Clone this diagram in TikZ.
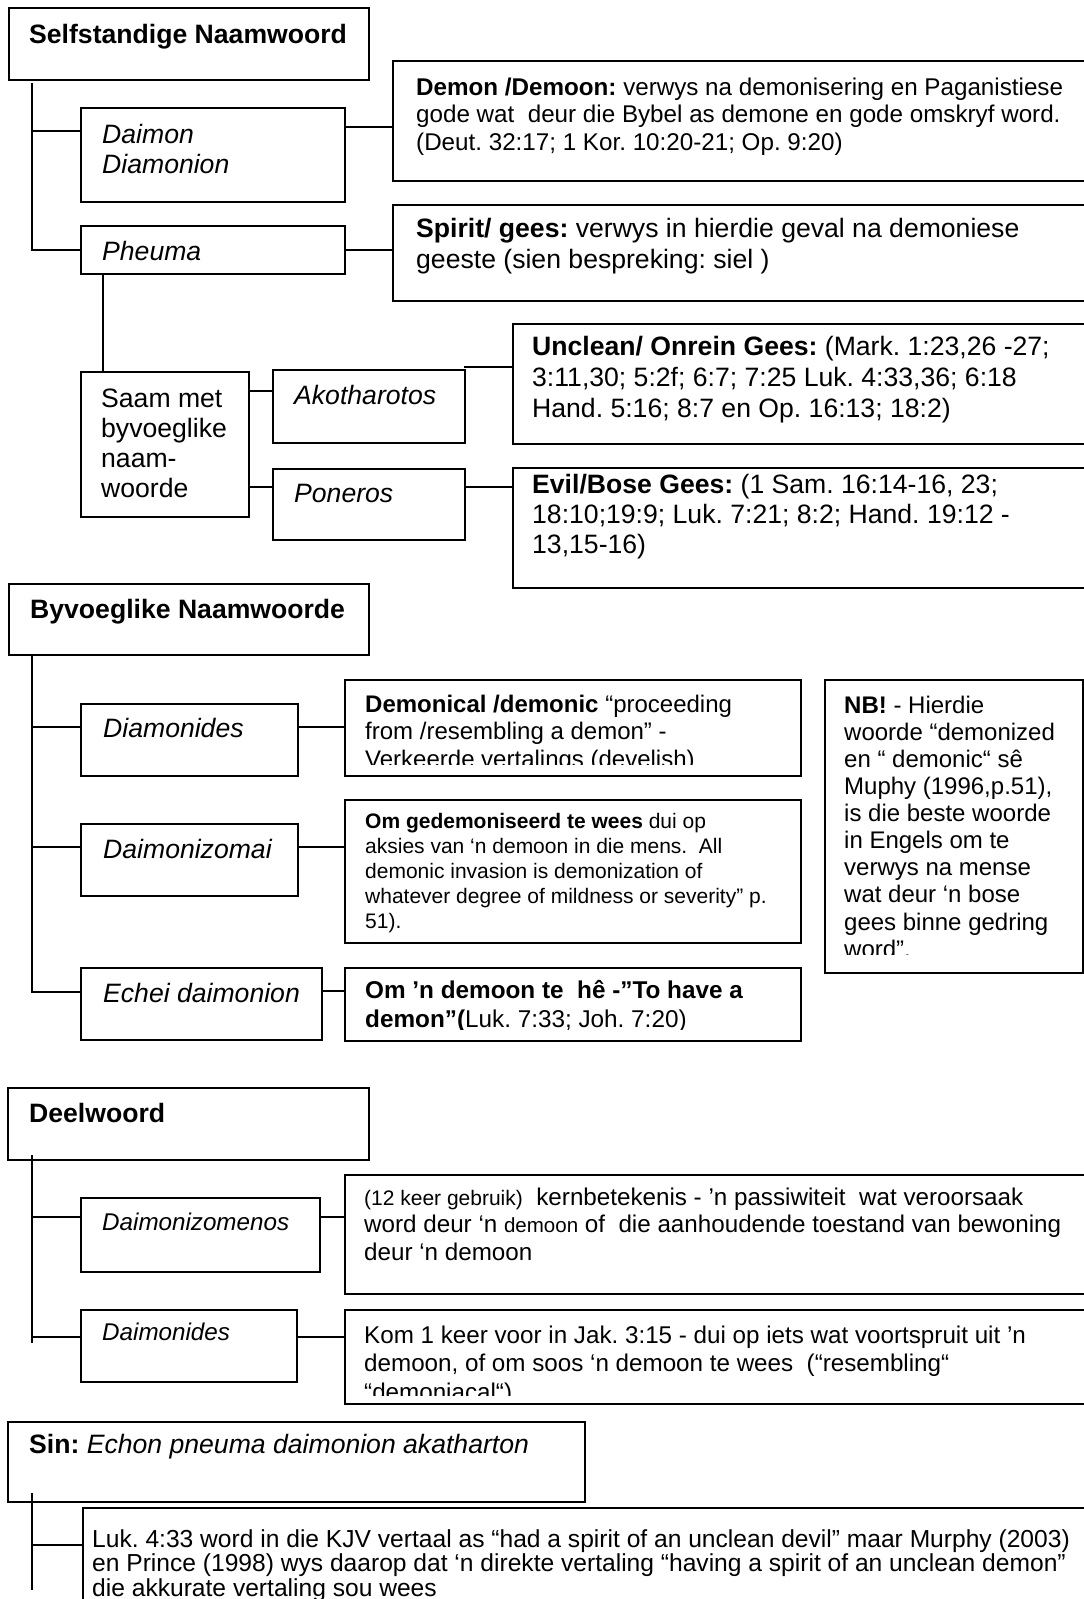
\documentclass[tikz,border=0pt]{standalone}
\usepackage{fontspec}
\setmainfont{Liberation Sans}
\newcommand{\st}{\rule{0pt}{20pt}}
\begin{document}
\frenchspacing
\begin{tikzpicture}[x=1pt,y=-1pt,
  box/.style={draw, line width=1.5pt, inner sep=0pt, anchor=north west},
  txt/.style={anchor=north west, inner sep=0pt, align=left},
  big/.style={font=\fontsize{26.6}{30}\selectfont},
  mid/.style={font=\fontsize{24.2}{27.5}\selectfont},
  link/.style={line width=1.5pt}]
\clip (0,0) rectangle (1084,1599);
\fill[white] (0,0) rectangle (1084,1599);

% ---------- Section 1 ----------
\node[box, minimum width=360pt, minimum height=72pt] (selfst) at (8,7) {};
\node[txt, big] (selfstT) at (29,23) {\st\textbf{Selfstandige Naamwoord}};

\node[box, minimum width=264pt, minimum height=94pt] (daimon) at (80,107) {};
\node[txt, big] (daimonT) at (102,123) {\st\textit{Daimon}\\\textit{Diamonion}};

\node[box, minimum width=264pt, minimum height=48pt] (pheuma) at (80,225) {};
\node[txt, big] (pheumaT) at (102,240) {\st\textit{Pheuma}};

\node[box, minimum width=720pt, minimum height=120pt] (demon) at (392,60) {};
\node[txt, font=\fontsize{24.2}{27.5}\selectfont] (demonT) at (416,75)
  {\st\textbf{Demon /Demoon:} verwys na demonisering en Paganistiese\\
   gode wat\ \ deur die Bybel as demone en gode omskryf word.\\
   (Deut. 32:17; 1 Kor. 10:20-21; Op. 9:20)};

\node[box, minimum width=720pt, minimum height=96pt] (spirit) at (392,204) {};
\node[txt, font=\fontsize{26.6}{31}\selectfont] (spiritT) at (416,217)
  {\st\textbf{Spirit/ gees:} verwys in hierdie geval na demoniese\\
   geeste (sien bespreking: siel )};

\node[box, minimum width=168pt, minimum height=145pt] (saam) at (80,371) {};
\node[txt, big] (saamT) at (101,387) {\st Saam met\\byvoeglike\\naam-\\woorde};

\node[box, minimum width=192pt, minimum height=73pt] (akoth) at (272,369) {};
\node[txt, big] (akothT) at (294,384) {\st\textit{Akotharotos}};

\node[box, minimum width=192pt, minimum height=71pt] (poneros) at (272,468) {};
\node[txt, big] (ponerosT) at (294,482) {\st\textit{Poneros}};

\node[box, minimum width=600pt, minimum height=120pt] (unclean) at (512,323) {};
\node[txt, font=\fontsize{26.6}{31}\selectfont] (uncleanT) at (532,335)
  {\st\textbf{Unclean/ Onrein Gees:} (Mark. 1:23,26 -27;\\
   3:11,30; 5:2f; 6:7; 7:25 Luk. 4:33,36; 6:18\\
   Hand. 5:16; 8:7 en Op. 16:13; 18:2)};

\node[box, minimum width=600pt, minimum height=120pt] (evil) at (512,467) {};
\node[txt, big] (evilT) at (532,473)
  {\st\textbf{Evil/Bose Gees:} (1 Sam. 16:14-16, 23;\\
   18:10;19:9; Luk. 7:21; 8:2; Hand. 19:12 -\\
   13,15-16)};

% connectors section 1
\coordinate (t1) at (32,83);
\coordinate (t1a) at (32,131);
\draw[link] (t1) |- (pheuma.west);
\draw[link] (t1a) -- (t1a -| daimon.west);
\coordinate (k1) at (344,127);
\draw[link] (k1) -- (k1 -| demon.west);
\draw[link] (pheuma.east) -- (pheuma.east -| spirit.west);
\coordinate (p1) at (103,273);
\draw[link] (p1) -- (p1 |- saam.north);
\coordinate (s1) at (248,391);
\draw[link] (s1) -- (s1 -| akoth.west);
\coordinate (s2) at (248,487);
\draw[link] (s2) -- (s2 -| poneros.west);
\coordinate (a1) at (464,367);
\draw[link] (a1) -- (a1 -| unclean.west);
\coordinate (a2) at (464,487);
\draw[link] (a2) -- (a2 -| evil.west);

% ---------- Section 2 ----------
\node[box, minimum width=360pt, minimum height=71pt] (byv) at (8,583) {};
\node[txt, big] (byvT) at (30,598) {\st\textbf{Byvoeglike Naamwoorde}};

\node[box, minimum width=217pt, minimum height=72pt] (diamonides) at (80,703) {};
\node[txt, big] (diamonidesT) at (103,717) {\st\textit{Diamonides}};

\node[box, minimum width=456pt, minimum height=96pt] (demonical) at (344,679) {};
\begin{scope}
\clip (346,681) rectangle (798,764);
\node[txt, font=\fontsize{24}{27.5}\selectfont] (demonicalT) at (365,692)
  {\st\textbf{Demonical /demonic} “proceeding\\
   from /resembling a demon” -\\
   Verkeerde vertalings (develish)};
\end{scope}

\node[box, minimum width=217pt, minimum height=72pt] (daimonizomai) at (80,823) {};
\node[txt, big] (daimonizomaiT) at (103,838) {\st\textit{Daimonizomai}};

\node[box, minimum width=456pt, minimum height=143pt] (gedemon) at (344,799) {};
\node[txt, font=\fontsize{21}{25}\selectfont] (gedemonT) at (365,808)
  {\st\textbf{Om gedemoniseerd te wees} dui op\\
   aksies van ‘n demoon in die mens.\ \ All\\
   demonic invasion is demonization of\\
   whatever degree of mildness or severity” p.\\
   51).};

\node[box, minimum width=241pt, minimum height=72pt] (echei) at (80,967) {};
\node[txt, big] (echeiT) at (103,982) {\st\textit{Echei daimonion}};

\node[box, minimum width=456pt, minimum height=73pt] (om) at (344,967) {};
\begin{scope}
\clip (346,969) rectangle (798,1029);
\node[txt, font=\fontsize{24.3}{29}\selectfont] (omT) at (365,978)
  {\st\textbf{Om ’n demoon te\ \ hê -”To have a}\\
   \textbf{demon”(}Luk. 7:33; Joh. 7:20)};
\end{scope}

\node[box, minimum width=258pt, minimum height=293pt] (nb) at (824,679) {};
\begin{scope}
\clip (826,681) rectangle (1080,954);
\node[txt, font=\fontsize{24}{27.1}\selectfont] (nbT) at (844,693)
  {\st\textbf{NB!} - Hierdie\\
   woorde “demonized\\
   en “ demonic“ sê\\
   Muphy (1996,p.51),\\
   is die beste woorde\\
   in Engels om te\\
   verwys na mense\\
   wat deur ‘n bose\\
   gees binne gedring\\
   word”.};
\end{scope}

% connectors section 2
\coordinate (t2) at (32,654);
\coordinate (t2a) at (32,727);
\coordinate (t2b) at (32,847);
\coordinate (t2c) at (32,992);
\draw[link] (t2) -- (t2c) -- (t2c -| echei.west);
\draw[link] (t2a) -- (t2a -| diamonides.west);
\draw[link] (t2b) -- (t2b -| daimonizomai.west);
\coordinate (m1) at (297,727);
\draw[link] (m1) -- (m1 -| demonical.west);
\coordinate (m2) at (297,847);
\draw[link] (m2) -- (m2 -| gedemon.west);
\coordinate (m3) at (321,991);
\draw[link] (m3) -- (m3 -| om.west);

% ---------- Section 3 ----------
\node[box, minimum width=361pt, minimum height=72pt] (deel) at (7,1087) {};
\node[txt, big] (deelT) at (29,1102) {\st\textbf{Deelwoord}};

\node[box, minimum width=239pt, minimum height=74pt] (dzmenos) at (80,1197) {};
\node[txt, mid] (dzmenosT) at (102,1210) {\st\textit{Daimonizomenos}};

\node[box, minimum width=760pt, minimum height=119pt] (kern) at (344,1174) {};
\node[txt, mid] (kernT) at (364,1185)
  {\st{\fontsize{21}{27.5}\selectfont(12 keer gebruik)}\ \ kernbetekenis - ’n passiwiteit\ \ wat veroorsaak\\
   word deur ‘n {\fontsize{20.5}{27.5}\selectfont demoon} of\ \ die aanhoudende toestand van bewoning\\
   deur ‘n demoon};

\node[box, minimum width=216pt, minimum height=72pt] (dmides) at (80,1309) {};
\node[txt, mid] (dmidesT) at (102,1320) {\st\textit{Daimonides}};

\node[box, minimum width=760pt, minimum height=94pt] (kom) at (344,1309) {};
\begin{scope}
\clip (346,1311) rectangle (1084,1395);
\node[txt, font=\fontsize{24.2}{28.5}\selectfont] (komT) at (364,1323)
  {\st Kom 1 keer voor in Jak. 3:15 - dui op iets wat voortspruit uit ’n\\
   demoon, of om soos ‘n demoon te wees\ \ (“resembling“\\
   “demoniacal“)};
\end{scope}

\coordinate (t3) at (32,1155);
\coordinate (t3a) at (32,1217);
\coordinate (t3b) at (32,1337);
\coordinate (t3c) at (32,1343);
\draw[link] (t3) -- (t3c);
\draw[link] (t3a) -- (t3a -| dzmenos.west);
\draw[link] (t3b) -- (t3b -| dmides.west);
\coordinate (n1) at (319,1217);
\draw[link] (n1) -- (n1 -| kern.west);
\coordinate (n2) at (296,1337);
\draw[link] (n2) -- (n2 -| kom.west);

% ---------- Section 4 ----------
\node[box, minimum width=577pt, minimum height=80pt] (sin) at (7,1421) {};
\node[txt, big] (sinT) at (29,1433) {\st\textbf{Sin:} \textit{Echon pneuma daimonion akatharton}};

\node[box, minimum width=1020pt, minimum height=120pt] (luk) at (82,1507) {};
\node[txt, font=\fontsize{24.6}{24.5}\selectfont] (lukT) at (92,1527)
  {\st Luk. 4:33 word in die KJV vertaal as “had a spirit of an unclean devil” maar Murphy (2003)\\
   en Prince (1998) wys daarop dat ‘n direkte vertaling “having a spirit of an unclean demon”\\
   die akkurate vertaling sou wees};

\coordinate (t4) at (32,1493);
\coordinate (t4a) at (32,1545);
\coordinate (t4b) at (32,1590);
\draw[link] (t4) -- (t4b);
\draw[link] (t4a) -- (t4a -| luk.west);
\end{tikzpicture}
\end{document}
